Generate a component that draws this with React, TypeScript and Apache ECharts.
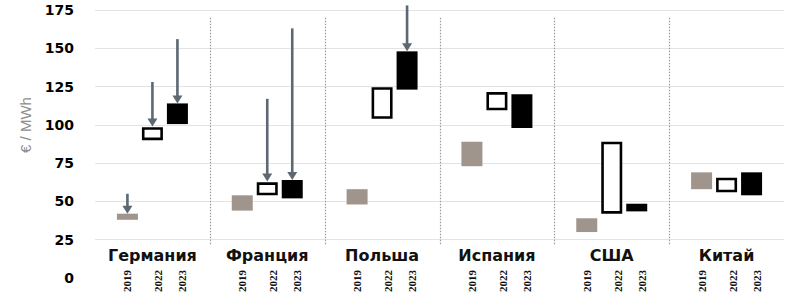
import React, { useEffect, useRef } from "react";
import * as echarts from "echarts";

const countries = ["Германия", "Франция", "Польша", "Испания", "США", "Китай"];
const years = ["2019", "2022", "2023"];

const low2019 = [38, 44, 48, 73, 30, 58];
const high2019 = [42, 54, 58, 89, 39, 69];
const low2022 = [90, 54, 104, 109.5, 42, 56];
const high2022 = [98.5, 62.5, 124.6, 121.4, 89, 65.5];
const low2023 = [100.5, 52, 123, 98, 43.5, 54];
const high2023 = [114, 64, 148, 120, 48.5, 69];

const arrowCountry = [0, 0, 0, 1, 1, 2];
const arrowYear = [0, 1, 2, 1, 2, 2];
const arrowFrom = [55, 128, 156, 117, 163, 178];
const arrowTo = [42, 99, 114, 63, 64, 148];

const yMin = 0;
const yMax = 175;
const yInterval = 25;

const BAR_W = 21;
const SLOT = 25; // bar width + gap in px
const labelOffsets = [-25, 6, 30];

export default function App() {
  const ref = useRef<HTMLDivElement>(null);

  useEffect(() => {
    document.body.style.margin = "0";
    if (!ref.current) return;
    const chart = echarts.init(ref.current, undefined, { renderer: "svg" });

    const lows = [low2019, low2022, low2023];
    const highs = [high2019, high2022, high2023];
    const rangeStyles = [
      { color: "#9f958d" },
      { color: "#ffffff", borderColor: "#000000", borderWidth: 2.6 },
      { color: "#000000" },
    ];

    const barSeries: any[] = [];
    years.forEach((y, k) => {
      barSeries.push({
        type: "bar",
        name: "base" + y,
        stack: "s" + y,
        data: lows[k],
        barWidth: BAR_W,
        barGap: "19%",
        itemStyle: { color: "rgba(0,0,0,0)" },
        silent: true,
      });
      barSeries.push({
        type: "bar",
        name: y,
        stack: "s" + y,
        data: highs[k].map((h, i) => h - lows[k][i]),
        barWidth: BAR_W,
        barGap: "19%",
        itemStyle: rangeStyles[k],
      });
    });

    const arrowData = arrowCountry.map((c, i) => [c, arrowYear[i], arrowFrom[i], arrowTo[i]]);
    const yearLabelData: number[][] = [];
    countries.forEach((_, c) => years.forEach((_, k) => yearLabelData.push([c, k])));
    const sepData = countries.slice(0, -1).map((_, i) => [i, 0]);

    const option: any = {
      animation: false,
      grid: { left: 95, right: 6, top: 10, bottom: 17, containLabel: false },
      xAxis: {
        type: "category",
        data: countries,
        axisLine: { show: false },
        axisTick: { show: false },
        splitLine: { show: false },
        axisLabel: {
          interval: 0,
          hideOverlap: false,
          margin: -31,
          fontFamily: "DejaVu Sans",
          fontWeight: "bold",
          fontSize: 16,
          color: "#111111",
        },
      },
      yAxis: {
        type: "value",
        min: yMin,
        max: yMax,
        interval: yInterval,
        axisLine: { show: false },
        axisTick: { show: false },
        splitLine: { show: true, showMinLine: false, lineStyle: { color: "#e3e3e3", width: 1 } },
        axisLabel: {
          margin: 21,
          fontFamily: "DejaVu Sans",
          fontWeight: "bold",
          fontSize: 14,
          color: "#000000",
        },
      },
      graphic: [
        {
          type: "text",
          x: 25,
          y: 125,
          rotation: Math.PI / 2,
          style: {
            text: "€ / MWh",
            fill: "#8c8c8c",
            font: "15px 'Liberation Sans'",
            align: "center",
            verticalAlign: "middle",
          },
        },
      ],
      series: [
        ...barSeries,
        {
          type: "custom",
          name: "separators",
          coordinateSystem: "cartesian2d",
          silent: true,
          data: sepData,
          encode: { x: 0, y: 1 },
          renderItem: (params: any, api: any) => {
            const i = api.value(0);
            const band = api.size([1, 0])[0];
            const p1 = api.coord([i, 170]);
            const p2 = api.coord([i, 21.5]);
            const x = Math.round(p1[0] + band / 2) + 0.5;
            return {
              type: "line",
              shape: { x1: x, y1: p1[1], x2: x, y2: p2[1] },
              style: { stroke: "#9a9a9a", lineWidth: 1.2, lineDash: [1.5, 1.5] },
            };
          },
        },
        {
          type: "custom",
          name: "arrows",
          coordinateSystem: "cartesian2d",
          silent: true,
          clip: false,
          z: 5,
          data: arrowData,
          encode: { x: 0, y: [2, 3] },
          renderItem: (params: any, api: any) => {
            const c = api.value(0);
            const k = api.value(1);
            const p1 = api.coord([c, api.value(2)]);
            const p2 = api.coord([c, api.value(3)]);
            const x = p1[0] + (k - 1) * SLOT;
            const headH = 8;
            const headW = 5;
            return {
              type: "group",
              children: [
                {
                  type: "line",
                  shape: { x1: x, y1: p1[1], x2: x, y2: p2[1] - headH + 1 },
                  style: { stroke: "#5d6872", lineWidth: 2.6 },
                },
                {
                  type: "polygon",
                  shape: {
                    points: [
                      [x - headW, p2[1] - headH],
                      [x + headW, p2[1] - headH],
                      [x, p2[1]],
                    ],
                  },
                  style: { fill: "#5d6872" },
                },
              ],
            };
          },
        },
        {
          type: "custom",
          name: "yearLabels",
          coordinateSystem: "cartesian2d",
          silent: true,
          clip: false,
          data: yearLabelData,
          encode: { x: 0, y: 1 },
          renderItem: (params: any, api: any) => {
            const c = api.value(0);
            const k = api.value(1);
            const p = api.coord([c, 0]);
            return {
              type: "text",
              x: p[0] + labelOffsets[k],
              y: p[1] - 8,
              rotation: Math.PI / 2,
              style: {
                text: years[k],
                fill: "#111111",
                font: "bold 11px 'Liberation Serif'",
                align: "right",
                verticalAlign: "middle",
              },
            };
          },
        },
      ],
    };

    chart.setOption(option);
    return () => chart.dispose();
  }, []);

  return <div ref={ref} style={{ width: 790, height: 295 }} />;
}
